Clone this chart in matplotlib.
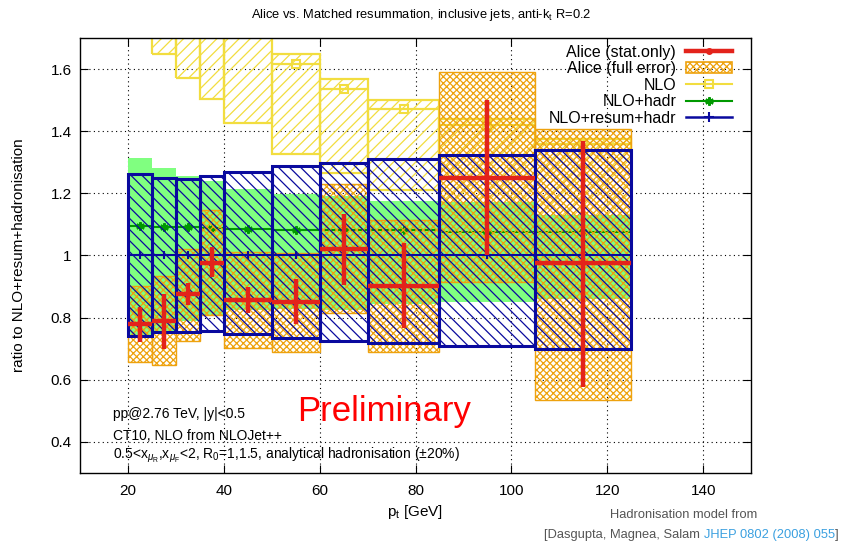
import numpy as np
import matplotlib
matplotlib.use("Agg")
import matplotlib.pyplot as plt
from matplotlib.lines import Line2D
from matplotlib.patches import Patch
from matplotlib.offsetbox import TextArea, HPacker, AnchoredOffsetbox

plt.rcParams['font.family'] = ['Liberation Sans', 'DejaVu Sans']
plt.rcParams['mathtext.fontset'] = 'custom'
plt.rcParams['mathtext.rm'] = 'Liberation Sans'
plt.rcParams['mathtext.it'] = 'Liberation Sans:italic'
plt.rcParams['hatch.linewidth'] = 0.9

# pt bins [GeV]
edges = np.array([20, 25, 30, 35, 40, 50, 60, 70, 85, 105, 125])

# Alice / (NLO+resum+hadr): central value, stat. error range, full error range
alice = np.array([0.78, 0.79, 0.875, 0.977, 0.858, 0.85, 1.02, 0.902, 1.25, 0.975])
alice_stat_lo = np.array([0.72, 0.70, 0.84, 0.93, 0.815, 0.778, 0.904, 0.765, 1.00, 0.576])
alice_stat_hi = np.array([0.835, 0.875, 0.91, 1.026, 0.90, 0.923, 1.135, 1.04, 1.50, 1.37])
alice_full_lo = [0.656, 0.647, 0.726, 0.809, 0.702, 0.69, 0.815, 0.688, 0.914, 0.536]
alice_full_hi = [0.903, 0.935, 1.022, 1.145, 1.011, 1.009, 1.231, 1.113, 1.592, 1.406]

# NLO
nlo = [1.98, 1.90, 1.82, 1.76, 1.72, 1.616, 1.535, 1.473, 1.42, 1.36]
nlo_lo = [1.72, 1.649, 1.57, 1.505, 1.425, 1.326, 1.264, 1.21, 1.15, 1.10]
nlo_hi = [2.05, 1.95, 1.87, 1.80, 1.76, 1.647, 1.567, 1.50, 1.44, 1.375]

# NLO+hadr
nlo_hadr = [1.095, 1.093, 1.092, 1.09, 1.086, 1.083, 1.083, 1.081, 1.077, 1.077]
nlo_hadr_lo = [0.742, 0.758, 0.79, 0.809, 0.823, 0.828, 0.823, 0.844, 0.85, 0.86]
nlo_hadr_hi = [1.314, 1.282, 1.256, 1.239, 1.215, 1.197, 1.19, 1.174, 1.172, 1.13]

# NLO+resum+hadr (the reference itself)
resum = [1.0] * 10
resum_lo = [0.74, 0.755, 0.755, 0.758, 0.747, 0.733, 0.726, 0.717, 0.708, 0.70]
resum_hi = [1.261, 1.25, 1.247, 1.255, 1.269, 1.287, 1.299, 1.31, 1.325, 1.339]

series_labels = ['Alice (stat.only)', 'Alice (full error)', 'NLO', 'NLO+hadr', 'NLO+resum+hadr']

red = '#e3231b'
orange = '#eea20e'
yellow = '#f2dd3f'
green_fill = '#80ff80'
green_line = '#009900'
blue = '#0a0a9e'

left = edges[:-1]
width = np.diff(edges)
mid = left + width / 2

fig, ax = plt.subplots(figsize=(8.42, 5.43), dpi=100)
fig.subplots_adjust(left=0.095, right=0.892, bottom=0.129, top=0.930)


def band(lo, hi, color, hatch, z, lw):
    lo = np.asarray(lo)
    hi = np.asarray(hi)
    ax.bar(left, hi - lo, width, bottom=lo, align='edge', facecolor='none',
           edgecolor=color, hatch=hatch, linewidth=0, zorder=z)
    ax.bar(left, hi - lo, width, bottom=lo, align='edge', facecolor='none',
           edgecolor=color, linewidth=lw, zorder=z + 0.1)


# NLO
band(nlo_lo, nlo_hi, yellow, '///', 1, 1.6)
ax.hlines(nlo, left, edges[1:], color=yellow, lw=1.6, zorder=1.2)
ax.plot(mid, nlo, ls='none', marker='s', mfc='none', mec=yellow, ms=6, mew=1.5, zorder=1.3)

# NLO+hadr
nh_lo = np.asarray(nlo_hadr_lo)
nh_hi = np.asarray(nlo_hadr_hi)
ax.bar(left, nh_hi - nh_lo, width, bottom=nh_lo, align='edge', color=green_fill, linewidth=0, zorder=2)
ax.hlines(nlo_hadr, left, edges[1:], color=green_line, lw=1.5, zorder=2.2)
ax.plot(mid, nlo_hadr, ls='none', marker=(6, 2, 0), color=green_line, ms=6, mew=1.6, zorder=2.3)

# Alice full error
band(alice_full_lo, alice_full_hi, orange, 'xxxxx', 3, 1.0)

# NLO+resum+hadr
band(resum_lo, resum_hi, blue, '\\\\\\', 4, 2.2)
ax.hlines(resum, left, edges[1:], color=blue, lw=1.5, zorder=4.3)
ax.plot(mid, resum, ls='none', marker='+', color=blue, ms=6, mew=1.5, zorder=4.4)

# Alice stat
ax.errorbar(mid, alice, xerr=width / 2, yerr=[alice - alice_stat_lo, alice_stat_hi - alice],
            fmt='none', ecolor=red, elinewidth=3.2, capsize=0, zorder=6)

ax.set_xlim(10, 150)
ax.set_ylim(0.3, 1.7)
ax.set_xticks(np.arange(20, 141, 20))
ax.set_yticks([0.4, 0.6, 0.8, 1.0, 1.2, 1.4, 1.6])
ax.set_yticklabels(['0.4', '0.6', '0.8', '1', '1.2', '1.4', '1.6'])
ax.tick_params(direction='in', top=True, right=True, length=6, width=0.8, labelsize=11)
ax.tick_params(axis='x', pad=8)
ax.tick_params(axis='y', pad=6)
for s in ax.spines.values():
    s.set_linewidth(1.0)
ax.set_axisbelow(True)
ax.grid(True, color='black', ls=(0, (1, 3)), lw=0.8)

ax.set_xlabel(r'p$_\mathregular{t}$ [GeV]', fontsize=11)
ax.xaxis.set_label_coords(0.5, -0.068)
ax.set_ylabel('ratio to NLO+resum+hadronisation', fontsize=11)
ax.yaxis.set_label_coords(-0.08, 0.5)

fig.text(0.5, 1 - 15 / 543, r'Alice vs. Matched resummation, inclusive jets, anti-k$_\mathregular{t}$ R=0.2',
         ha='center', va='center', fontsize=9.3)

handles = [
    Line2D([], [], color=red, lw=3.2, marker='o', ms=4),
    Patch(facecolor='none', edgecolor=orange, hatch='xxxxx', lw=1.2),
    Line2D([], [], color=yellow, lw=1.5, marker='s', mfc='none', ms=6, mew=1.5),
    Line2D([], [], color=green_line, lw=1.5, marker=(6, 2, 0), ms=6, mew=1.6),
    Line2D([], [], color=blue, lw=1.8, marker='+', ms=7, mew=1.5),
]
ax.legend(handles, series_labels, loc='upper right', bbox_to_anchor=(0.9717, 0.985),
          frameon=False, markerfirst=False, fontsize=11.5, handlelength=2.9,
          handletextpad=0.6, labelspacing=0.1, borderpad=0, borderaxespad=0)

ax.text(0.049, 0.126, 'pp@2.76 TeV, |y|<0.5', transform=ax.transAxes, fontsize=10, va='baseline')
ax.text(0.049, 0.076, 'CT10, NLO from NLOJet++', transform=ax.transAxes, fontsize=10, va='baseline')
ax.text(0.049, 0.034,
        r'0.5<x$_{\mu_\mathregular{R}}$,x$_{\mu_\mathregular{F}}$<2, R$_\mathregular{0}$=1,1.5, analytical hadronisation ($\pm$20%)',
        transform=ax.transAxes, fontsize=10, va='baseline')
ax.text(0.323, 0.12, 'Preliminary', transform=ax.transAxes, fontsize=25, color='red', va='baseline')

gray = '#555555'
fig.text(757 / 842, 1 - 515 / 543, 'Hadronisation model from', ha='right', va='center',
         fontsize=9.3, color=gray)
ref = HPacker(children=[TextArea('[Dasgupta, Magnea, Salam ', textprops=dict(color=gray, fontsize=9.3)),
                        TextArea('JHEP 0802 (2008) 055', textprops=dict(color='#3ba0e0', fontsize=9.3)),
                        TextArea(']', textprops=dict(color=gray, fontsize=9.3))],
              pad=0, sep=0, align='baseline')
fig.add_artist(AnchoredOffsetbox(loc='lower right', child=ref, pad=0, borderpad=0, frameon=False,
                                 bbox_to_anchor=(0.996, 0.004), bbox_transform=fig.transFigure))

fig.savefig('out.png', dpi=100)
